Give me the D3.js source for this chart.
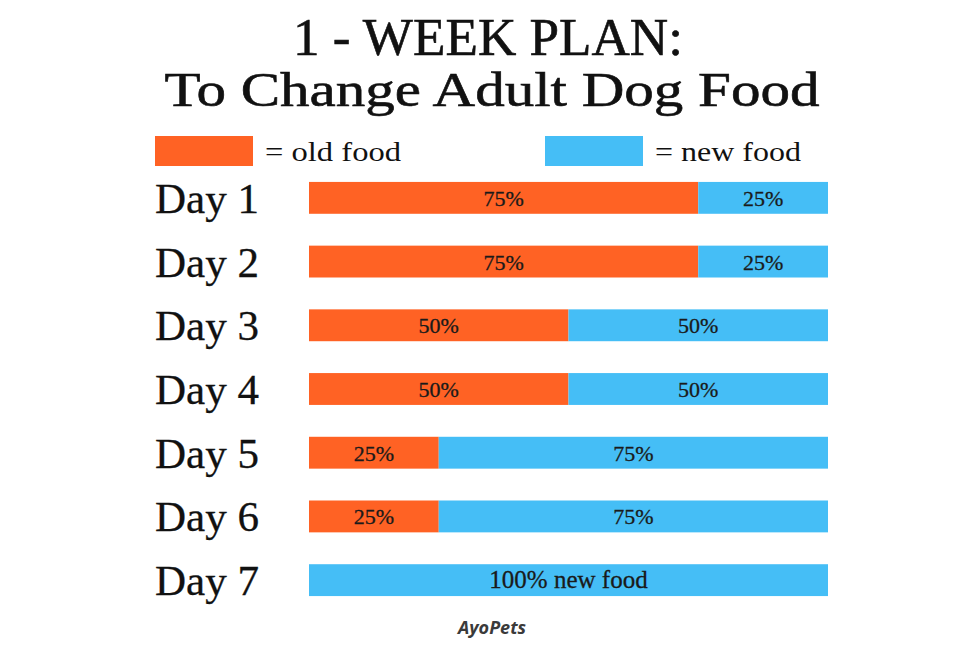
<!DOCTYPE html>
<html><head><meta charset="utf-8">
<script src="https://cdn.jsdelivr.net/npm/d3@7/dist/d3.min.js"></script>
<style>body{margin:0;background:#fff}svg{display:block}</style>
</head><body><svg id="c" width="980" height="653"></svg>
<script>
const days = ["Day 1","Day 2","Day 3","Day 4","Day 5","Day 6","Day 7"];
const oldFood = [75,75,50,50,25,25,0];
const newFood = [25,25,50,50,75,75,100];
const titleLines = ["1 - WEEK PLAN:", "To Change Adult Dog Food"];
const legendLabels = ["= old food", "= new food"];
const colors = {old:"#FF6224", new:"#45BEF6"};
const serif = "'Liberation Serif','DejaVu Serif',serif";

const svg = d3.select("#c");
const x = d3.scaleLinear().domain([0,100]).range([309,828]);
const y = d3.scaleBand().domain(days).range([166,612]).paddingInner(0.5).paddingOuter(0.25);

// title
svg.append("text").attr("x",488).attr("y",55).attr("text-anchor","middle")
  .attr("font-family",serif).attr("font-size",52).attr("fill","#111")
  .attr("stroke","#111").attr("stroke-width",0.6)
  .attr("textLength",390).attr("lengthAdjust","spacingAndGlyphs").text(titleLines[0]);
svg.append("text").attr("x",492).attr("y",106).attr("text-anchor","middle")
  .attr("font-family",serif).attr("font-size",49).attr("fill","#111")
  .attr("stroke","#111").attr("stroke-width",0.6)
  .attr("textLength",655).attr("lengthAdjust","spacingAndGlyphs").text(titleLines[1]);

// legend
const leg = [{k:"old",x:155,tx:265,tl:136},{k:"new",x:545,tx:655,tl:146}];
leg.forEach((l,i)=>{
  svg.append("rect").attr("x",l.x).attr("y",136).attr("width",98).attr("height",30).attr("fill",colors[l.k]);
  svg.append("text").attr("x",l.tx).attr("y",161).attr("font-family",serif).attr("font-size",28)
    .attr("fill","#111").attr("textLength",l.tl).attr("lengthAdjust","spacingAndGlyphs").text(legendLabels[i]);
});

// day labels
svg.selectAll("text.day").data(days).join("text").attr("class","day")
  .attr("x",155).attr("y",d=>y(d)+y.bandwidth()/2+15)
  .attr("font-family",serif).attr("font-size",42).attr("fill","#111")
  .attr("stroke","#111").attr("stroke-width",0.3)
  .attr("textLength",104).attr("lengthAdjust","spacingAndGlyphs").text(d=>d);

const rows = days.map((d,i)=>({day:d, old:oldFood[i], nw:newFood[i]}));
const g = svg.append("g");
rows.forEach(r=>{
  const yy = y(r.day), h = y.bandwidth();
  if (r.old>0){
    g.append("rect").attr("x",x(0)).attr("y",yy).attr("width",x(r.old)-x(0)).attr("height",h).attr("fill",colors.old);
    g.append("text").attr("x",(x(0)+x(r.old))/2).attr("y",yy+h/2+8).attr("text-anchor","middle")
      .attr("font-family",serif).attr("font-size",22).attr("fill","#1a1a1a")
      .attr("stroke","#1a1a1a").attr("stroke-width",0.3).text(r.old+"%");
  }
  g.append("rect").attr("x",x(r.old)).attr("y",yy).attr("width",x(100)-x(r.old)).attr("height",h).attr("fill",colors.new);
  const lbl = r.old===0 ? r.nw+"% new food" : r.nw+"%";
  g.append("text").attr("x",(x(r.old)+x(100))/2).attr("y",yy+h/2+8).attr("text-anchor","middle")
    .attr("font-family",serif).attr("font-size",r.old===0?25:22).attr("fill","#1a1a1a")
    .attr("stroke","#1a1a1a").attr("stroke-width",0.3).text(lbl);
});

// watermark
svg.append("text").attr("x",492).attr("y",634).attr("text-anchor","middle")
  .attr("font-family","'Open Sans','DejaVu Sans',sans-serif").attr("font-weight","bold").attr("font-style","italic")
  .attr("font-size",18).attr("fill","#3a3a3a").text("AyoPets");
</script></body></html>
